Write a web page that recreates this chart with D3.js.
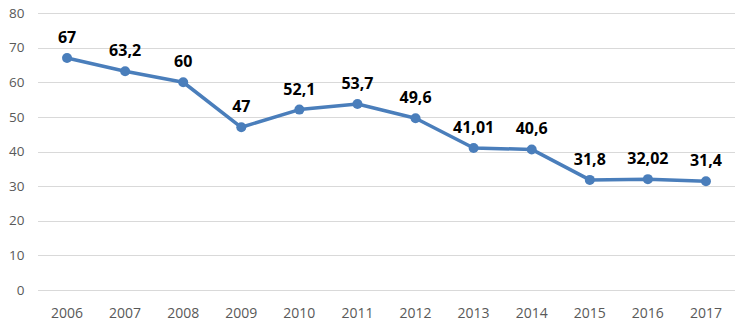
<!DOCTYPE html>
<html><head><meta charset="utf-8">
<script src="https://cdn.jsdelivr.net/npm/d3@7"></script>
<style>body{margin:0;background:#fff}svg{display:block}</style>
</head><body>
<svg id="c" width="750" height="329"></svg>
<script>
const years = ["2006","2007","2008","2009","2010","2011","2012","2013","2014","2015","2016","2017"];
const values = [67, 63.2, 60, 47, 52.1, 53.7, 49.6, 41.01, 40.6, 31.8, 32.02, 31.4];
const labels = ["67","63,2","60","47","52,1","53,7","49,6","41,01","40,6","31,8","32,02","31,4"];
const yTicks = [0,10,20,30,40,50,60,70,80];

const svg = d3.select("#c");
const x = d3.scaleBand().domain(years).range([38, 735]);
const y = d3.scaleLinear().domain([0, 80]).range([290, 13]);
const font = "'Open Sans', sans-serif";

svg.append("g").selectAll("line").data(yTicks).join("line")
  .attr("x1", 38).attr("x2", 735)
  .attr("y1", d => Math.round(y(d)) + 0.5).attr("y2", d => Math.round(y(d)) + 0.5)
  .attr("stroke", "#d9d9d9").attr("stroke-width", 1);

svg.append("g").selectAll("text").data(yTicks).join("text")
  .attr("x", 24.5).attr("y", d => y(d)).attr("dy", "0.35em")
  .attr("text-anchor", "end").attr("font-family", font).attr("font-size", 13.5)
  .attr("fill", "#595959").text(d => d);

svg.append("g").selectAll("text").data(years).join("text")
  .attr("x", d => x(d) + x.bandwidth() / 2).attr("y", 318)
  .attr("text-anchor", "middle").attr("font-family", font).attr("font-size", 14)
  .attr("fill", "#595959").text(d => d);

const cx = (d, i) => x(years[i]) + x.bandwidth() / 2;
const line = d3.line().x((d, i) => cx(d, i)).y(d => y(d));
svg.append("path").datum(values).attr("d", line)
  .attr("fill", "none").attr("stroke", "#4a7ebb").attr("stroke-width", 3.5)
  .attr("stroke-linejoin", "round");

svg.append("g").selectAll("circle").data(values).join("circle")
  .attr("cx", cx).attr("cy", d => y(d)).attr("r", 5)
  .attr("fill", "#4a7ebb");

svg.append("g").selectAll("text").data(values).join("text")
  .attr("x", cx).attr("y", d => y(d) - 15)
  .attr("text-anchor", "middle").attr("font-family", font).attr("font-size", 16)
  .attr("font-weight", "bold").attr("fill", "#000").text((d, i) => labels[i]);
</script>
</body></html>
